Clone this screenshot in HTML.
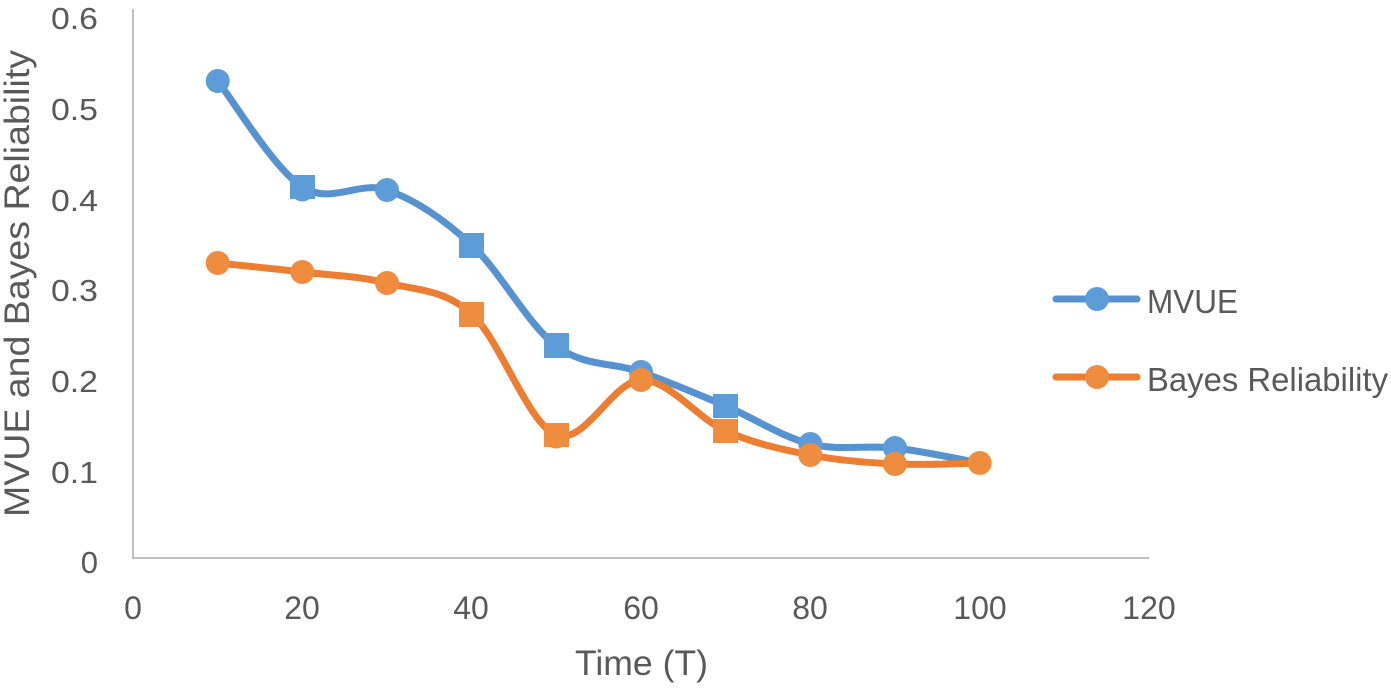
<!DOCTYPE html>
<html>
<head>
<meta charset="utf-8">
<style>
  html,body{margin:0;padding:0;background:#fff;}
  svg{display:block;}
  text{font-family:"Liberation Sans",Arial,sans-serif;fill:#595959;}
</style>
</head>
<body>
<svg width="1391" height="691" viewBox="0 0 1391 691" xmlns="http://www.w3.org/2000/svg">
  <rect x="0" y="0" width="1391" height="691" fill="#fff"/>
  <!-- axes -->
  <line x1="133" y1="9" x2="133" y2="559" stroke="#bfbfbf" stroke-width="2"/>
  <line x1="132" y1="558" x2="1149" y2="558" stroke="#bfbfbf" stroke-width="2"/>

  <!-- Y tick labels -->
  <g font-size="31" text-anchor="end">
    <text x="98" y="29" textLength="47" lengthAdjust="spacingAndGlyphs">0.6</text>
    <text x="98" y="120" textLength="47" lengthAdjust="spacingAndGlyphs">0.5</text>
    <text x="98" y="211" textLength="47" lengthAdjust="spacingAndGlyphs">0.4</text>
    <text x="98" y="301" textLength="47" lengthAdjust="spacingAndGlyphs">0.3</text>
    <text x="98" y="392" textLength="47" lengthAdjust="spacingAndGlyphs">0.2</text>
    <text x="98" y="483" textLength="47" lengthAdjust="spacingAndGlyphs">0.1</text>
    <text x="98" y="573">0</text>
  </g>

  <!-- X tick labels -->
  <g font-size="32" text-anchor="middle">
    <text x="133" y="619">0</text>
    <text x="302" y="619">20</text>
    <text x="471" y="619">40</text>
    <text x="641" y="619">60</text>
    <text x="810" y="619">80</text>
    <text x="980" y="619">100</text>
    <text x="1149" y="619">120</text>
  </g>

  <!-- axis titles -->
  <text x="575" y="675" font-size="35" textLength="133" lengthAdjust="spacingAndGlyphs">Time (T)</text>
  <text transform="translate(29,517) rotate(-90)" x="0" y="0" font-size="35" textLength="467" lengthAdjust="spacingAndGlyphs">MVUE and Bayes Reliability</text>

  <!-- MVUE line -->
  <path d="M217.7,81 C231.8,98.67 274.1,168.83 302.3,187 C330.5,205.17 358.8,180.33 387,190 C415.2,199.67 443.5,219 471.7,245 C499.9,271 528.1,324.83 556.3,346 C584.5,367.17 612.8,362 641,372 C669.2,382 697.5,394 725.7,406 C753.9,418 782.1,437 810.3,444 C838.5,451 866.8,444.83 895,448 C923.2,451.17 965.6,460.5 979.7,463"
        fill="none" stroke="#5592CF" stroke-width="7" stroke-linejoin="round" stroke-linecap="round"/>
  <!-- Bayes line -->
  <path d="M217.7,263 C231.8,264.5 274.1,268.67 302.3,272 C330.5,275.33 358.8,276 387,283 C415.2,290 443.5,288.67 471.7,314 C499.9,339.33 528.1,424 556.3,435 C584.5,446 612.8,380.67 641,380 C669.2,379.33 697.5,418.5 725.7,431 C753.9,443.5 782.1,449.5 810.3,455 C838.5,460.5 866.8,462.67 895,464 C923.2,465.33 965.6,463.17 979.7,463"
        fill="none" stroke="#ED7D31" stroke-width="7" stroke-linejoin="round" stroke-linecap="round"/>

  <!-- MVUE markers -->
  <g fill="#5D9DD7">
    <circle cx="217.7" cy="81" r="12"/>
    <circle cx="302.3" cy="190" r="11.5"/>
    <rect x="290" y="175" width="25" height="24"/>
    <circle cx="387" cy="190" r="12"/>
    <rect x="459" y="233" width="25" height="25"/>
    <rect x="544" y="333" width="25" height="25"/>
    <circle cx="641" cy="372" r="12"/>
    <rect x="713" y="394" width="25" height="24"/>
    <circle cx="810.3" cy="444" r="12"/>
    <circle cx="895" cy="448" r="12"/>
  </g>
  <!-- Bayes markers -->
  <g fill="#F08C3E">
    <circle cx="217.7" cy="263" r="12"/>
    <circle cx="302.3" cy="272" r="12"/>
    <circle cx="387" cy="283" r="12"/>
    <rect x="459" y="302" width="25" height="25"/>
    <circle cx="556.3" cy="437" r="11.5"/>
    <rect x="544" y="423" width="25" height="24"/>
    <circle cx="641" cy="380" r="12"/>
    <rect x="713" y="419" width="25" height="24"/>
    <circle cx="810.3" cy="455" r="12"/>
    <circle cx="895" cy="464" r="12"/>
    <circle cx="979.7" cy="463" r="12"/>
  </g>

  <!-- Legend -->
  <line x1="1056" y1="299" x2="1137" y2="299" stroke="#5592CF" stroke-width="7" stroke-linecap="round"/>
  <circle cx="1097" cy="299" r="12" fill="#5D9DD7"/>
  <text x="1147" y="313" font-size="33" textLength="91" lengthAdjust="spacingAndGlyphs">MVUE</text>
  <line x1="1056" y1="377" x2="1137" y2="377" stroke="#ED7D31" stroke-width="7" stroke-linecap="round"/>
  <circle cx="1097" cy="377" r="12" fill="#F08C3E"/>
  <text x="1147" y="391" font-size="33" textLength="241" lengthAdjust="spacingAndGlyphs">Bayes Reliability</text>
</svg>
</body>
</html>
